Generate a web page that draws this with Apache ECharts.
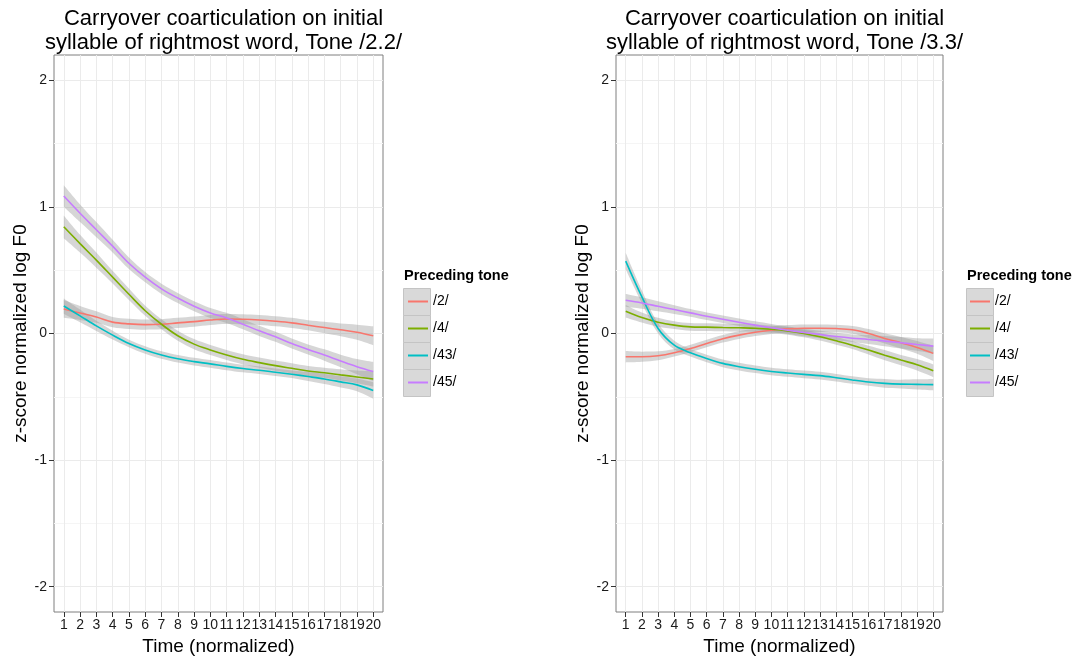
<!DOCTYPE html>
<html>
<head>
<meta charset="utf-8">
<script src="https://cdn.jsdelivr.net/npm/echarts@6/dist/echarts.min.js"></script>
<style>
html,body{margin:0;padding:0;background:#fff;}
#chart{width:1078px;height:661px;}
</style>
</head>
<body>
<div id="chart"></div>
<script>
// ---- data ----
const timeSteps = [1,2,3,4,5,6,7,8,9,10,11,12,13,14,15,16,17,18,19,20];
const toneNames = ['/2/', '/4/', '/43/', '/45/'];
const toneColors = ['#F8766D', '#7CAE00', '#00BFC4', '#C77CFF'];
const yTicks = [-2, -1, 0, 1, 2];
const yMinorTicks = [-1.5, -0.5, 0.5, 1.5];
const titleLeft = 'Carryover coarticulation on initial\nsyllable of rightmost word, Tone /2.2/';
const titleRight = 'Carryover coarticulation on initial\nsyllable of rightmost word, Tone /3.3/';

// Left panel (Tone /2.2/)
const left_t2  = [0.194,0.162,0.13,0.09,0.076,0.07,0.073,0.084,0.094,0.107,0.115,0.113,0.107,0.097,0.084,0.065,0.047,0.029,0.01,-0.018];
const left_t4  = [0.843,0.71,0.58,0.445,0.31,0.18,0.073,-0.018,-0.084,-0.13,-0.17,-0.204,-0.23,-0.254,-0.275,-0.296,-0.31,-0.327,-0.343,-0.36];
const left_t43 = [0.217,0.139,0.06,-0.013,-0.079,-0.13,-0.17,-0.2,-0.222,-0.24,-0.26,-0.277,-0.29,-0.306,-0.322,-0.34,-0.359,-0.382,-0.406,-0.45];
const left_t45 = [1.086,0.95,0.82,0.69,0.555,0.445,0.353,0.28,0.215,0.162,0.123,0.073,0.021,-0.026,-0.079,-0.126,-0.17,-0.217,-0.262,-0.3];
// confidence band half-widths
const left_ci2  = [0.07,0.055,0.045,0.04,0.04,0.04,0.04,0.04,0.04,0.04,0.04,0.04,0.04,0.04,0.04,0.04,0.045,0.05,0.06,0.075];
const left_ci4  = [0.09,0.07,0.06,0.05,0.045,0.04,0.04,0.04,0.04,0.04,0.04,0.04,0.04,0.04,0.04,0.04,0.04,0.045,0.05,0.06];
const left_ci43 = [0.06,0.05,0.04,0.035,0.03,0.03,0.03,0.03,0.03,0.03,0.03,0.03,0.03,0.03,0.03,0.035,0.04,0.045,0.05,0.065];
const left_ci45 = [0.085,0.07,0.06,0.05,0.045,0.04,0.04,0.04,0.04,0.04,0.04,0.04,0.04,0.04,0.04,0.04,0.045,0.05,0.06,0.075];

// Right panel (Tone /3.3/)
const right_t2  = [-0.184,-0.184,-0.176,-0.152,-0.118,-0.079,-0.042,-0.013,0.01,0.026,0.037,0.042,0.042,0.039,0.029,0.0,-0.039,-0.073,-0.11,-0.157];
const right_t4  = [0.176,0.126,0.089,0.066,0.052,0.05,0.047,0.045,0.042,0.034,0.021,0.0,-0.026,-0.058,-0.092,-0.131,-0.171,-0.21,-0.247,-0.294];
const right_t43 = [0.572,0.289,0.04,-0.092,-0.152,-0.197,-0.236,-0.262,-0.283,-0.3,-0.312,-0.323,-0.333,-0.349,-0.367,-0.383,-0.394,-0.4,-0.402,-0.404];
const right_t45 = [0.262,0.241,0.215,0.189,0.163,0.136,0.113,0.089,0.066,0.045,0.026,0.008,-0.008,-0.024,-0.037,-0.047,-0.06,-0.073,-0.087,-0.1];
const right_ci2  = [0.045,0.04,0.035,0.03,0.03,0.03,0.03,0.03,0.03,0.03,0.03,0.03,0.03,0.03,0.03,0.035,0.04,0.045,0.05,0.06];
const right_ci4  = [0.05,0.04,0.035,0.03,0.03,0.03,0.03,0.03,0.03,0.03,0.03,0.03,0.03,0.03,0.03,0.035,0.04,0.04,0.045,0.05];
const right_ci43 = [0.065,0.05,0.04,0.035,0.03,0.03,0.03,0.03,0.03,0.03,0.03,0.03,0.03,0.03,0.03,0.03,0.035,0.035,0.04,0.045];
const right_ci45 = [0.05,0.045,0.04,0.035,0.03,0.03,0.03,0.03,0.03,0.03,0.03,0.03,0.03,0.03,0.03,0.035,0.04,0.045,0.05,0.06];

// ---- build ----
const FONT = '"Liberation Sans", Arial, Helvetica, sans-serif';
const panels = [
  {lines:[left_t2,left_t4,left_t43,left_t45], ci:[left_ci2,left_ci4,left_ci43,left_ci45], gridLeft:54, gridWidth:329, title:titleLeft, legendX:408, boxX:403},
  {lines:[right_t2,right_t4,right_t43,right_t45], ci:[right_ci2,right_ci4,right_ci43,right_ci45], gridLeft:616, gridWidth:327, title:titleRight, legendX:970, boxX:966}
];
const GRID_TOP = 55, GRID_H = 557;

const grids = [], xAxes = [], yAxes = [], series = [], titles = [], legends = [], graphics = [];

panels.forEach((p, pi) => {
  grids.push({left:p.gridLeft, top:GRID_TOP, width:p.gridWidth, height:GRID_H, show:true,
    backgroundColor:'#ffffff', borderColor:'#7f7f7f', borderWidth:1, containLabel:false});
  xAxes.push({type:'value', gridIndex:pi, min:0.4, max:20.6,
    name:'Time (normalized)', nameLocation:'middle', nameGap:23,
    nameTextStyle:{fontFamily:FONT, fontSize:19, color:'#000'},
    axisLine:{show:false, onZero:false},
    axisTick:{show:true, length:5, customValues:timeSteps, lineStyle:{color:'#333', width:1}},
    axisLabel:{customValues:timeSteps, fontFamily:FONT, fontSize:14, color:'#1a1a1a', margin:6},
    splitLine:{show:true, lineStyle:{color:'#ebebeb', width:1}}
  });
  yAxes.push({type:'value', gridIndex:pi, min:-2.2, max:2.2,
    name:'z-score normalized log F0', nameLocation:'middle', nameGap:20, nameRotate:90,
    nameTextStyle:{fontFamily:FONT, fontSize:19, color:'#000'},
    axisLine:{show:false, onZero:false},
    axisTick:{show:true, length:5, customValues:yTicks, lineStyle:{color:'#333', width:1}},
    axisLabel:{customValues:yTicks, fontFamily:FONT, fontSize:14, color:'#1a1a1a', margin:7},
    splitLine:{show:true, lineStyle:{color:'#ebebeb', width:1}}
  });
  // minor gridlines axis
  yAxes.push({type:'value', gridIndex:pi, min:-2.2, max:2.2, position:'left',
    axisLine:{show:false, onZero:false}, axisLabel:{show:false},
    axisTick:{show:false, customValues:yMinorTicks},
    splitLine:{show:true, lineStyle:{color:'#f5f5f5', width:1}}
  });
  const yIdx = pi * 2;
  titles.push({text:p.title, left:p.gridLeft + p.gridWidth/2, top:2, textAlign:'center',
    textStyle:{fontFamily:FONT, fontSize:22, fontWeight:'normal', color:'#000', lineHeight:24}});
  // confidence bands: lower edge + stacked width, data given as [y, x] with encode
  p.lines.forEach((vals, si) => {
    const lower = vals.map((v, i) => [v - p.ci[si][i], timeSteps[i]]);
    const width = vals.map((v, i) => [2 * p.ci[si][i], timeSteps[i]]);
    const st = 'band' + pi + '_' + si;
    series.push({type:'line', xAxisIndex:pi, yAxisIndex:yIdx, data:lower, encode:{x:1, y:0},
      stack:st, stackStrategy:'all', smooth:0.35, symbol:'none', lineStyle:{opacity:0}, silent:true, z:2,
      name:'_b' + pi + si + 'l'});
    series.push({type:'line', xAxisIndex:pi, yAxisIndex:yIdx, data:width, encode:{x:1, y:0},
      stack:st, stackStrategy:'all', smooth:0.35, symbol:'none', lineStyle:{opacity:0},
      areaStyle:{color:'rgba(153,153,153,0.4)', opacity:1},
      silent:true, z:2, name:'_b' + pi + si + 'u'});
  });
  p.lines.forEach((vals, si) => {
    series.push({type:'line', name:toneNames[si], xAxisIndex:pi, yAxisIndex:yIdx,
      data:vals.map((v, i) => [timeSteps[i], v]), smooth:0.35, symbol:'none',
      lineStyle:{color:toneColors[si], width:1.6}, itemStyle:{color:toneColors[si]}, z:3});
  });
  // legend key boxes
  toneNames.forEach((n, i) => {
    graphics.push({type:'rect', left:p.boxX, top:288 + 27*i,
      shape:{width:27, height:27}, style:{fill:'#d9d9d9', stroke:'#c4c4c4', lineWidth:1}, z:-1});
  });
  graphics.push({type:'text', left:p.boxX + 1, top:268,
    style:{text:'Preceding tone', font:'bold 14.5px ' + FONT, fill:'#000'}});
  legends.push({show:true, data:toneNames, orient:'vertical', left:p.legendX, top:288,
    itemGap:0, itemWidth:20, itemHeight:2, icon:'rect', selectedMode:false,
    textStyle:{fontFamily:FONT, fontSize:14, color:'#000', lineHeight:27},
    padding:0});
});

const chart = echarts.init(document.getElementById('chart'), null, {renderer:'canvas'});
chart.setOption({
  animation:false,
  backgroundColor:'#ffffff',
  title:titles,
  grid:grids,
  xAxis:xAxes,
  yAxis:yAxes,
  legend:legends,
  graphic:graphics,
  series:series
});
</script>
</body>
</html>
